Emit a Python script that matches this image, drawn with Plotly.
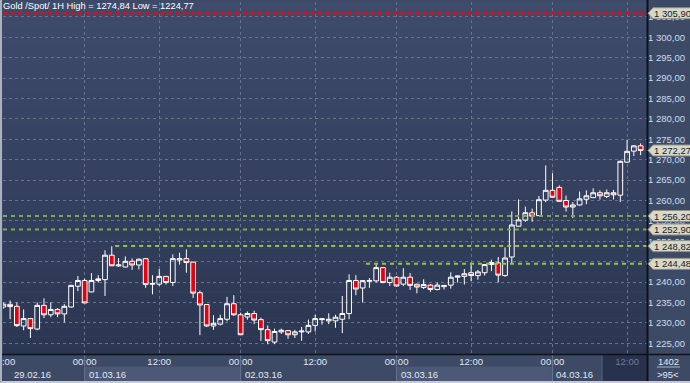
import plotly.graph_objects as go

# ---------------- data ----------------
title_text = "Gold /Spot/ 1H High = 1274,84 Low = 1224,77"

open_ = [1233.9, 1234.56, 1234.07, 1229.25, 1231.05, 1228.5, 1234.3, 1232.0, 1233.3, 1232.2,
         1233.9, 1239.0, 1240.4, 1237.6, 1240.4, 1240.6, 1246.6, 1243.95, 1243.7, 1245.1,
         1244.2, 1245.75, 1239.5, 1239.5, 1241.4, 1239.9, 1245.4, 1245.75, 1244.9, 1237.4,
         1234.5, 1229.25, 1229.7, 1230.9, 1234.7, 1232.0, 1231.45, 1232.3, 1230.8, 1228.35,
         1225.3, 1227.8, 1228.1, 1227.1, 1227.8, 1227.8, 1229.4, 1230.8, 1230.5, 1230.5,
         1230.9, 1232.3, 1240.4, 1238.56, 1240.2, 1240.3, 1243.55, 1239.9, 1241.2, 1239.5,
         1241.2, 1239.46, 1238.7, 1239.26, 1238.2, 1238.9, 1239.26, 1241.2, 1241.4, 1242.3,
         1241.6, 1242.3, 1244.3, 1244.7, 1241.6, 1246.15, 1253.7, 1255.2, 1257.0, 1256.3,
         1260.1, 1262.5, 1263.2, 1260.0, 1258.4, 1258.9, 1260.3, 1260.7, 1261.9, 1261.0,
         1261.9, 1261.3, 1269.4, 1272.1, 1273.4]
high_ = [1235.0, 1235.5, 1235.0, 1233.3, 1231.2, 1235.0, 1236.0, 1235.05, 1233.6, 1234.6,
         1239.3, 1241.5, 1240.85, 1242.2, 1241.7, 1247.8, 1248.8, 1245.9, 1246.3, 1245.8,
         1245.8, 1245.8, 1241.7, 1243.2, 1241.5, 1246.8, 1247.2, 1248.0, 1245.0, 1237.9,
         1234.6, 1231.9, 1232.0, 1236.4, 1236.8, 1232.5, 1232.8, 1233.0, 1231.3, 1229.4,
         1228.6, 1228.6, 1228.2, 1228.3, 1229.0, 1230.8, 1232.0, 1231.1, 1232.35, 1232.0,
         1236.6, 1241.9, 1241.7, 1240.5, 1241.0, 1244.4, 1243.6, 1242.3, 1241.5, 1243.4,
         1242.2, 1239.6, 1240.7, 1239.5, 1239.9, 1239.3, 1242.4, 1241.6, 1243.2, 1244.8,
         1243.0, 1244.4, 1245.5, 1246.15, 1248.5, 1257.3, 1260.25, 1258.5, 1258.0, 1261.1,
         1268.6, 1266.7, 1263.7, 1261.2, 1259.6, 1262.2, 1262.5, 1263.0, 1262.5, 1262.7,
         1262.6, 1269.8, 1274.84, 1273.5, 1274.0]
low_ = [1233.5, 1230.9, 1229.0, 1228.2, 1226.3, 1228.2, 1231.2, 1231.4, 1231.4, 1230.1,
        1233.8, 1237.8, 1234.8, 1237.5, 1239.9, 1236.6, 1244.0, 1243.7, 1243.6, 1243.0,
        1243.1, 1238.6, 1237.0, 1239.05, 1239.4, 1239.05, 1244.3, 1242.3, 1236.1, 1227.0,
        1229.0, 1228.3, 1229.4, 1230.4, 1231.7, 1227.0, 1230.8, 1229.7, 1225.6, 1224.77,
        1224.8, 1227.3, 1226.1, 1226.3, 1225.6, 1227.3, 1227.9, 1229.6, 1229.7, 1228.8,
        1227.5, 1230.9, 1236.8, 1235.0, 1238.6, 1239.9, 1239.7, 1239.05, 1238.9, 1239.05,
        1238.1, 1237.25, 1238.3, 1237.6, 1237.95, 1238.2, 1238.4, 1239.9, 1239.4, 1240.2,
        1240.6, 1241.6, 1242.7, 1239.9, 1241.3, 1244.5, 1253.6, 1254.8, 1254.8, 1256.2,
        1259.6, 1260.7, 1259.7, 1257.3, 1255.7, 1258.8, 1259.1, 1260.6, 1260.2, 1260.6,
        1260.25, 1259.6, 1269.3, 1270.9, 1271.1]
close_ = [1234.6, 1234.0, 1229.33, 1231.05, 1228.6, 1234.3, 1232.0, 1233.3, 1232.2, 1234.07,
          1239.2, 1240.4, 1234.9, 1240.4, 1240.8, 1246.6, 1244.0, 1244.2, 1245.1, 1244.2,
          1245.6, 1239.4, 1239.6, 1241.4, 1239.9, 1245.75, 1245.75, 1244.8, 1237.3, 1234.4,
          1229.25, 1229.9, 1231.05, 1234.7, 1232.0, 1227.1, 1232.3, 1230.7, 1228.35, 1225.65,
          1227.9, 1228.2, 1227.1, 1227.8, 1228.0, 1229.4, 1231.05, 1231.0, 1230.9, 1231.4,
          1232.3, 1240.4, 1238.3, 1240.36, 1240.4, 1243.55, 1239.9, 1241.2, 1239.05, 1241.2,
          1239.2, 1238.8, 1239.4, 1238.2, 1239.26, 1239.2, 1241.2, 1241.5, 1242.05, 1241.6,
          1242.5, 1244.3, 1244.8, 1241.7, 1245.9, 1254.0, 1255.25, 1257.0, 1256.15, 1260.2,
          1262.5, 1260.8, 1259.8, 1258.4, 1258.9, 1260.4, 1261.15, 1261.9, 1261.15, 1261.9,
          1261.4, 1269.6, 1272.05, 1273.4, 1272.27]

time_tick_index = [0, 12, 23, 35, 46, 58, 69, 81, 92]
time_tick_labels = ["12:00", "00:00", "12:00", "00:00", "12:00", "00:00", "12:00", "00:00", "12:00"]
day_labels = ["29.02.16", "01.03.16", "02.03.16", "03.03.16", "04.03.16"]
day_start_index = [-12, 12, 35, 58, 81]
price_tick_values = [1225, 1230, 1235, 1240, 1245, 1250, 1255, 1260, 1265, 1270,
                     1275, 1280, 1285, 1290, 1295, 1300, 1305]
support_levels = [1256.20, 1252.90, 1248.82, 1244.48]
support_start_index = [None, None, 17, 54]
resistance_level = 1305.90
last_price = 1272.27
bar_counter = "1402"
visible_bars = ">95<"

# ---------------- layout constants ----------------
W, H = 690, 383
ML, MR, MT, MB = 3, 43, 2, 29
PW, PH = W - ML - MR, H - MT - MB
X_RANGE = [-0.044, 94.94]
Y_RANGE = [1222.38, 1308.65]

PANEL = "#3d4a66"
DATEBAND = "#4b5876"
FUTURE = "#28324c"
GRID = "#66728e"
TXT = "#e2e8f2"
YTXT = "#cfdbee"
FONT = "Liberation Sans, Arial, sans-serif"
FS = 9.5


def pxx(px):
    return (px - ML) / PW


def pxy(py):
    return (H - MB - py) / PH


def fmt_price(v):
    s = f"{v:,.2f}"
    return s.replace(",", " ").replace(".", ",")


def hexmix(c1, c2, t):
    a = [int(c1[i:i + 2], 16) for i in (1, 3, 5)]
    b = [int(c2[i:i + 2], 16) for i in (1, 3, 5)]
    return "#" + "".join(f"{round(a[k] + (b[k] - a[k]) * t):02x}" for k in range(3))


idx = list(range(len(open_)))

fig = go.Figure()
fig.add_trace(go.Candlestick(
    x=idx, open=open_, high=high_, low=low_, close=close_,
    increasing=dict(line=dict(color="#ffffff", width=1), fillcolor="rgba(0,0,0,0)"),
    decreasing=dict(line=dict(color="#ffffff", width=1), fillcolor="#e8000e"),
    whiskerwidth=0, hoverinfo="skip", showlegend=False,
))

shapes = []
# gradient plot background
NB = 40
top_c, bot_c = "#3e4b6b", "#2b3652"
for k in range(NB):
    shapes.append(dict(type="rect", xref="paper", yref="paper", x0=0, x1=1,
                       y0=1 - (k + 1) / NB, y1=1 - k / NB, layer="below",
                       line=dict(width=0), fillcolor=hexmix(top_c, bot_c, (k + 0.5) / NB)))

# date bands in the bottom panel
for d, s in enumerate(day_start_index):
    e = day_start_index[d + 1] if d + 1 < len(day_start_index) else X_RANGE[1]
    if d % 2 == 1:
        shapes.append(dict(type="rect", xref="x", yref="paper", x0=max(s, X_RANGE[0]), x1=e,
                           y0=pxy(381), y1=pxy(366.5), layer="below",
                           line=dict(width=0), fillcolor=DATEBAND))
    if s > X_RANGE[0]:
        shapes.append(dict(type="line", xref="x", yref="paper", x0=s, x1=s,
                           y0=pxy(381), y1=pxy(355), layer="above",
                           line=dict(color="#66728f", width=1)))
# "future" block in the bottom panel
shapes.append(dict(type="rect", xref="paper", yref="paper", x0=pxx(602), x1=pxx(647),
                   y0=pxy(381), y1=pxy(355), layer="below",
                   line=dict(width=0), fillcolor=FUTURE))
shapes.append(dict(type="line", xref="paper", yref="paper", x0=pxx(602), x1=pxx(602),
                   y0=pxy(381), y1=pxy(355), layer="above",
                   line=dict(color="#56627e", width=1)))

# support lines
for lv, st in zip(support_levels, support_start_index):
    bright = st is not None
    shapes.append(dict(type="line", xref="x", yref="y",
                       x0=X_RANGE[0] if st is None else st - 0.5, x1=X_RANGE[1], y0=lv, y1=lv,
                       layer="above",
                       line=dict(color="#92c83e" if bright else "#7dab46", width=2, dash="4px,4px")))
# resistance line
shapes.append(dict(type="line", xref="x", yref="y", x0=X_RANGE[0], x1=X_RANGE[1],
                   y0=resistance_level, y1=resistance_level, layer="above",
                   line=dict(color="#d4101c", width=2.5, dash="4px,3.5px")))

# separators and frame
shapes.append(dict(type="line", xref="paper", yref="paper", x0=pxx(647.5), x1=pxx(647.5),
                   y0=pxy(383), y1=pxy(0), layer="above", line=dict(color="#0e121a", width=2)))
shapes.append(dict(type="line", xref="paper", yref="paper", x0=pxx(0), x1=pxx(690),
                   y0=pxy(354.5), y1=pxy(354.5), layer="above", line=dict(color="#0e121a", width=1.5)))
shapes.append(dict(type="rect", xref="paper", yref="paper", x0=pxx(0), x1=pxx(690),
                   y0=pxy(383), y1=pxy(381), layer="above", line=dict(width=0), fillcolor="#c6c9cf"))
shapes.append(dict(type="rect", xref="paper", yref="paper", x0=pxx(0), x1=pxx(2),
                   y0=pxy(383), y1=pxy(0), layer="above", line=dict(width=0), fillcolor="#aab2c0"))
# counter divider
shapes.append(dict(type="line", xref="paper", yref="paper", x0=pxx(657), x1=pxx(680),
                   y0=pxy(367), y1=pxy(367), layer="above", line=dict(color="#a9b3c6", width=1)))

annotations = []
# price tags
half = 5.5 * (Y_RANGE[1] - Y_RANGE[0]) / PH
for v in [resistance_level, last_price] + support_levels:
    path = (f"M {pxx(648)},{v} L {pxx(653)},{v + half} L {pxx(691)},{v + half} "
            f"L {pxx(691)},{v - half} L {pxx(653)},{v - half} Z")
    shapes.append(dict(type="path", xref="paper", yref="y", path=path, layer="above",
                       fillcolor="#d8d8c9", line=dict(color="#8d8f86", width=1)))
    annotations.append(dict(xref="paper", yref="y", x=pxx(652), y=v, xanchor="left",
                            yanchor="middle", showarrow=False, text=fmt_price(v),
                            font=dict(family=FONT, size=FS, color="#1a1a1a")))

# title
annotations.append(dict(xref="paper", yref="paper", x=0, y=1, xanchor="left", yanchor="top",
                        xshift=-2, yshift=3, showarrow=False, text=title_text,
                        font=dict(family=FONT, size=9.3, color="#ffffff")))
# day labels
for lab, s in zip(day_labels, day_start_index):
    if s > X_RANGE[0]:
        annotations.append(dict(xref="x", yref="paper", x=s, y=pxy(374), xanchor="left",
                                yanchor="middle", xshift=2, showarrow=False, text=lab,
                                font=dict(family=FONT, size=FS, color=TXT)))
    else:
        annotations.append(dict(xref="paper", yref="paper", x=pxx(12), y=pxy(374),
                                xanchor="left", yanchor="middle", showarrow=False, text=lab,
                                font=dict(family=FONT, size=FS, color=TXT)))
# counter
annotations.append(dict(xref="paper", yref="paper", x=pxx(668.5), y=pxy(361.5), xanchor="center",
                        yanchor="middle", showarrow=False, text=bar_counter,
                        font=dict(family=FONT, size=FS, color=TXT)))
annotations.append(dict(xref="paper", yref="paper", x=pxx(668.5), y=pxy(374.5), xanchor="center",
                        yanchor="middle", showarrow=False, text=visible_bars.replace("<", "&lt;").replace(">", "&gt;"),
                        font=dict(family=FONT, size=FS, color=TXT)))

tick_text = []
for i, t in zip(time_tick_index, time_tick_labels):
    if i > len(open_) - 4:
        tick_text.append(f'<span style="color:#6f7b96">{t}</span>')
    else:
        tick_text.append(t)

fig.update_layout(
    width=W, height=H,
    margin=dict(l=ML, r=MR, t=MT, b=MB, pad=0, autoexpand=False),
    paper_bgcolor=PANEL, plot_bgcolor="rgba(0,0,0,0)",
    boxgap=0.3, boxgroupgap=0,
    shapes=shapes, annotations=annotations,
    showlegend=False,
    xaxis=dict(range=X_RANGE, rangeslider=dict(visible=False), tickmode="array",
               tickvals=time_tick_index, ticktext=tick_text, ticks="",
               showgrid=True, gridcolor=GRID, griddash="3px,3px", gridwidth=1,
               zeroline=False, showline=False, ticklabeloverflow="allow", automargin=False,
               tickfont=dict(family=FONT, size=FS, color=TXT), fixedrange=True),
    yaxis=dict(range=Y_RANGE, side="right", tickmode="array",
               tickvals=price_tick_values, ticktext=[fmt_price(v) for v in price_tick_values],
               ticks="", showgrid=True, gridcolor=GRID, griddash="3px,3px", gridwidth=1,
               zeroline=False, showline=False, automargin=False, ticklabeloverflow="allow",
               tickfont=dict(family=FONT, size=FS, color=YTXT), fixedrange=True),
)

fig.write_html("out.html", config={"displayModeBar": False},
               post_script="document.body.style.margin='0px';document.body.style.padding='0px';"
                           "document.documentElement.style.overflow='hidden';")
